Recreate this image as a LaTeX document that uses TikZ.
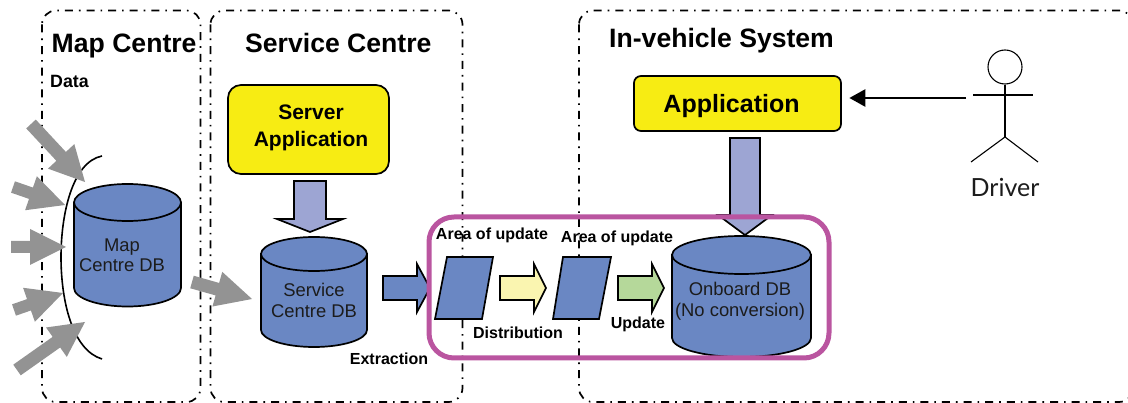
\documentclass[tikz,border=0pt]{standalone}
\usepackage{fontspec}
\setmainfont{Liberation Sans}
\newfontfamily\drvfont{Lato}
\usetikzlibrary{calc,arrows.meta}
\definecolor{dbblue}{HTML}{6A87C3}
\definecolor{lav}{HTML}{9DA5D3}
\definecolor{arrgray}{HTML}{939393}
\definecolor{appyellow}{HTML}{F7EC13}
\definecolor{paley}{HTML}{FAF5B0}
\definecolor{paleg}{HTML}{B5D89A}
\definecolor{magen}{HTML}{BA55A0}
\definecolor{txtd}{HTML}{1C1C1C}
\newcommand{\fs}[1]{\fontsize{#1}{#1}\selectfont}
\tikzset{
  zone/.style={draw=black,line width=1.7pt,rounded corners=14pt,dash pattern=on 8pt off 6pt on 1.6pt off 6pt},
  title/.style={inner sep=0pt,anchor=base west,font=\bfseries\fs{26.6}},
  small/.style={inner sep=0pt,anchor=base,font=\bfseries\fs{16}},
  dbtext/.style={inner sep=0pt,anchor=base,text=txtd,font=\fs{18.4}},
  apptext/.style={inner sep=0pt,anchor=base,font=\bfseries\fs{21}},
  appbox/.style={draw=black,line width=1.7pt,fill=appyellow},
  dbshape/.style={draw=black,line width=1.7pt,fill=dbblue},
  grayarrow/.style={fill=arrgray},
  outlined/.style={draw=black,line width=1.7pt,fill=#1},
  person/.style={draw=black,line width=1.1pt},
}
% name, x1, x2, top-ellipse centre y, bottom-ellipse centre y, ry
\newcommand{\dbcyl}[6]{%
  \coordinate (#1) at ({(#2+#3)/2},{(#4+#5)/2});
  \path[dbshape] (#2,#4) -- (#2,#5) .. controls (#2,{#5+0.55*#6}) and ({(#2+#3)/2-0.55*(#3-#2)/2},{#5+#6}) .. ({(#2+#3)/2},{#5+#6})
     .. controls ({(#2+#3)/2+0.55*(#3-#2)/2},{#5+#6}) and (#3,{#5+0.55*#6}) .. (#3,#5) -- (#3,#4) -- cycle;
  \path[dbshape] ({(#2+#3)/2},#4) ellipse [x radius={(#3-#2)/2*1pt},y radius=#6pt];
}
% style, name, start, tip, shaft half width, head half width, head length
\newcommand{\blockarrow}[7]{%
  \coordinate (#2s) at (#3);
  \coordinate (#2t) at (#4);
  \coordinate (#2h) at ($(#2t)!#7pt!(#2s)$);
  \path[#1] ($(#2s)!#5pt!90:(#2t)$) -- ($(#2h)!#5pt!90:(#2t)$) -- ($(#2h)!#6pt!90:(#2t)$) -- (#2t)
     -- ($(#2h)!#6pt!-90:(#2t)$) -- ($(#2h)!#5pt!-90:(#2t)$) -- ($(#2s)!#5pt!-90:(#2t)$) -- cycle;
}
\begin{document}
\begin{tikzpicture}[x=1pt,y=-1pt]
\useasboundingbox (0,0) rectangle (1128,403);
\clip (0,0) rectangle (1128,403);
% zones
\draw[zone] (42,10.5) rectangle (200.5,402);
\draw[zone] (210.5,10.5) rectangle (462.5,402);
\draw[zone] (579,10.5) rectangle (1133,402);
% titles
\node[title] (tmap) at (51.5,52.7) {Map Centre};
\node[title] (tsvc) at (245,52.7) {Service Centre};
\node[title] (tveh) at (609,47.7) {In-vehicle System};
\node[inner sep=0pt,anchor=base west,font=\bfseries\fs{17.8}] (tdata) at (50,87.5) {Data};
% boundary curve
\draw[line width=1.6pt] (102,156) .. controls (72,162) and (61,215) .. (61,257) .. controls (61,300) and (72,350) .. (102,359);
% gray input arrows
\blockarrow{grayarrow}{ga}{31,124}{85,182}{6.5}{18}{35}
\blockarrow{grayarrow}{gb}{13,187}{65,205}{6}{18}{36}
\blockarrow{grayarrow}{gc}{11,247}{66,247}{6}{18}{36}
\blockarrow{grayarrow}{gd}{14,310}{63,293}{6}{18}{36}
\blockarrow{grayarrow}{ge}{17,370}{85,322}{6.5}{18}{35}
\blockarrow{grayarrow}{gf}{192,282}{252,299}{6.5}{18}{36}
% databases
\dbcyl{mapdb}{74}{181}{202.5}{288}{18.5}
\dbcyl{svcdb}{261}{367}{254}{330}{17}
% application boxes
\node[appbox,rounded corners=13pt,minimum width=161pt,minimum height=89pt,inner sep=0pt] (srv) at (308.5,129.5) {};
\node[apptext] (srv1) at (311,119.7) {Server};
\node[apptext] (srv2) at (311,146.7) {Application};
\node[appbox,rounded corners=7pt,minimum width=207pt,minimum height=55pt,inner sep=0pt] (app) at (737.5,103.5) {};
\node[apptext,font=\bfseries\fs{25}] (app1) at (731.5,112.7) {Application};
% block arrows
\blockarrow{outlined=lav}{sa}{310,181}{310,232}{16}{33}{13}
\blockarrow{outlined=lav}{aa}{745,138}{745,235}{15}{27}{20}
\blockarrow{outlined=dbblue}{ex}{383,288}{430,288}{12}{24}{13}
\blockarrow{outlined=paley}{di}{500,288}{546,288}{12}{24}{12}
\blockarrow{outlined=paleg}{up}{618,288}{664,288}{12}{24}{12}
% parallelograms
\draw[outlined=dbblue] (447,257) -- (493,257) -- (482,319) -- (435,319) -- cycle;
\draw[outlined=dbblue] (563,257) -- (611,257) -- (599,319) -- (553,319) -- cycle;
% onboard
\dbcyl{ondb}{672}{811}{255}{338}{19}
% focus frame
\draw[draw=magen,line width=5pt,rounded corners=25pt] (429,217) rectangle (829,358);
% db labels
\node[dbtext] (m1) at (122,251.4) {Map};
\node[dbtext] (m2) at (122,271.7) {Centre DB};
\node[dbtext] (s1) at (314,296.7) {Service};
\node[dbtext] (s2) at (314,317.7) {Centre DB};
\node[dbtext] (o1) at (740,295.7) {Onboard DB};
\node[dbtext] (o2) at (740,316.7) {(No conversion)};
% small labels
\node[small] (l1) at (492,239.5) {Area of update};
\node[small] (l2) at (617,242.5) {Area of update};
\node[small] (l3) at (518,338.5) {Distribution};
\node[small] (l4) at (638,328.5) {Update};
\node[small] (l5) at (389,364.5) {Extraction};
% driver
\node[person,circle,minimum size=34pt,inner sep=0pt] (head) at (1005,67) {};
\coordinate (hip) at (1005,137);
\coordinate (armL) at (973,95);
\coordinate (armR) at (1033,95);
\coordinate (legL) at (971,162);
\coordinate (legR) at (1038,162);
\draw[person] (head.south) -- (hip);
\draw[person] (armL) -- (armR);
\draw[person] (legL) -- (hip) -- (legR);
\node[inner sep=0pt,anchor=base,text=txtd,font=\drvfont\fs{25}] (drv) at (1005,197) {Driver};
\coordinate (drvstart) at (966,98);
\draw[line width=2.5pt,-{Triangle[length=16pt,width=17pt]},shorten >=7.5pt] (drvstart) -- (drvstart -| app.east);
\end{tikzpicture}
\end{document}
